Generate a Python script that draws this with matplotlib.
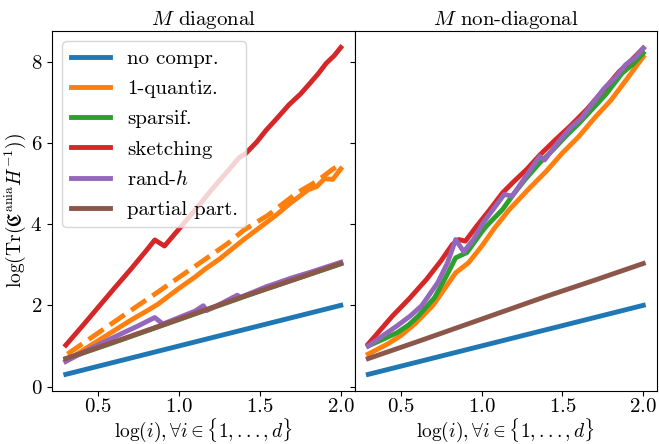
import numpy as np
import matplotlib
matplotlib.use("Agg")
import matplotlib.pyplot as plt

plt.rcParams['font.family'] = 'serif'
plt.rcParams['font.serif'] = ['cmr10']
plt.rcParams['mathtext.fontset'] = 'cm'
plt.rcParams['axes.formatter.use_mathtext'] = True
plt.rcParams['axes.unicode_minus'] = False

# ---- left panel: M diagonal ----
x_none = [0.30, 0.70, 1.00, 1.50, 2.00]
y_none = [0.30, 0.70, 1.00, 1.50, 2.00]

x_part = [0.30, 0.60, 1.00, 1.40, 1.70, 2.00]
y_part = [0.69, 1.10, 1.66, 2.22, 2.62, 3.03]

xl_quant = [0.30, 0.40, 0.50, 0.60, 0.70, 0.80, 0.87, 1.00, 1.10, 1.16, 1.25,
            1.40, 1.50, 1.60, 1.69, 1.80, 1.85, 1.90, 1.95, 2.00]
yl_quant = [0.62, 0.88, 1.13, 1.38, 1.63, 1.86, 2.03, 2.42, 2.70, 2.89, 3.14,
            3.62, 3.92, 4.22, 4.52, 4.85, 4.92, 5.12, 5.10, 5.36]

xl_quant_b = [0.31, 0.50, 0.70, 0.87, 1.00, 1.16, 1.30, 1.40, 1.55, 1.73,
              1.85, 1.95, 2.00]
yl_quant_b = [0.80, 1.32, 1.87, 2.33, 2.69, 3.13, 3.52, 3.85, 4.22, 4.77,
              5.05, 5.35, 5.47]

xl_spars = [0.30, 0.60, 0.90, 1.20, 1.50, 2.00]
yl_spars = [0.68, 1.09, 1.51, 1.93, 2.35, 3.02]

xl_sketch = [0.30, 0.40, 0.50, 0.60, 0.70, 0.80, 0.85, 0.91, 1.00, 1.10, 1.20,
             1.30, 1.37, 1.41, 1.48, 1.54, 1.60, 1.68, 1.75, 1.81, 1.86, 1.91,
             1.96, 2.00]
yl_sketch = [1.02, 1.48, 1.95, 2.42, 2.88, 3.36, 3.61, 3.46, 3.88, 4.35, 4.84,
             5.30, 5.63, 5.73, 6.02, 6.32, 6.58, 6.94, 7.20, 7.47, 7.70, 7.96,
             8.15, 8.35]

xl_randh = [0.30, 0.45, 0.60, 0.75, 0.85, 0.90, 1.00, 1.10, 1.15, 1.17, 1.25,
            1.36, 1.38, 1.45, 1.54, 1.60, 1.70, 1.80, 1.90, 2.00]
yl_randh = [0.62, 0.93, 1.22, 1.50, 1.70, 1.54, 1.70, 1.86, 1.99, 1.87, 2.02,
            2.25, 2.20, 2.31, 2.46, 2.54, 2.68, 2.80, 2.93, 3.06]

# ---- right panel: M non-diagonal ----
xr_quant = [0.30, 0.42, 0.50, 0.59, 0.70, 0.77, 0.84, 0.92, 1.00, 1.08, 1.17,
            1.30, 1.40, 1.50, 1.60, 1.70, 1.80, 1.90, 2.00]
yr_quant = [0.80, 1.05, 1.25, 1.55, 2.00, 2.40, 2.80, 3.05, 3.45, 3.90, 4.35,
            4.90, 5.30, 5.75, 6.15, 6.62, 7.05, 7.58, 8.12]

xr_spars = [0.30, 0.40, 0.48, 0.55, 0.61, 0.71, 0.78, 0.84, 0.91, 1.00, 1.03,
            1.13, 1.20, 1.27, 1.36, 1.44, 1.52, 1.60, 1.68, 1.77, 1.87, 1.94, 2.00]
yr_spars = [1.00, 1.18, 1.33, 1.52, 1.74, 2.19, 2.70, 3.17, 3.30, 3.80, 3.95,
            4.36, 4.75, 5.10, 5.51, 5.82, 6.16, 6.47, 6.81, 7.20, 7.72, 7.95, 8.21]

xr_sketch = [0.30, 0.45, 0.55, 0.66, 0.75, 0.82, 0.86, 0.90, 0.97, 1.05, 1.13,
             1.20, 1.28, 1.36, 1.45, 1.55, 1.65, 1.75, 1.85, 1.93, 2.00]
yr_sketch = [1.05, 1.74, 2.15, 2.64, 3.10, 3.50, 3.62, 3.58, 3.95, 4.35, 4.77,
             5.05, 5.35, 5.70, 6.05, 6.42, 6.82, 7.28, 7.75, 8.05, 8.33]

xr_randh = [0.30, 0.40, 0.48, 0.56, 0.63, 0.73, 0.79, 0.84, 0.89, 0.95, 1.01,
            1.06, 1.14, 1.19, 1.27, 1.36, 1.39, 1.47, 1.55, 1.62, 1.68, 1.76,
            1.83, 1.89, 1.95, 2.00]
yr_randh = [1.00, 1.28, 1.50, 1.74, 1.99, 2.56, 3.05, 3.62, 3.32, 3.62, 4.03,
            4.30, 4.73, 4.69, 5.15, 5.67, 5.58, 6.00, 6.37, 6.62, 6.94, 7.35,
            7.62, 7.92, 8.10, 8.33]

labels = ['no compr.', '1-quantiz.', 'sparsif.', 'sketching', r'rand-$h$', 'partial part.']
colors = ['tab:blue', 'tab:orange', 'tab:green', 'tab:red', 'tab:purple', 'tab:brown']
LW = 3.5

fig, (ax1, ax2) = plt.subplots(1, 2, sharey=True, figsize=(6.59, 4.44), dpi=100)
fig.subplots_adjust(left=0.079, right=0.997, bottom=0.12, top=0.93, wspace=0)

# left
ax1.plot(x_none, y_none, color=colors[0], lw=LW, label=labels[0])
ax1.plot(xl_quant, yl_quant, color=colors[1], lw=LW, label=labels[1])
ax1.plot(xl_quant_b, yl_quant_b, color=colors[1], lw=LW, ls='--')
ax1.plot(xl_spars, yl_spars, color=colors[2], lw=LW, label=labels[2])
ax1.plot(xl_sketch, yl_sketch, color=colors[3], lw=LW, label=labels[3])
ax1.plot(xl_randh, yl_randh, color=colors[4], lw=LW, label=labels[4])
ax1.plot(x_part, y_part, color=colors[5], lw=LW, label=labels[5])

# right
ax2.plot(x_none, y_none, color=colors[0], lw=LW)
ax2.plot(xr_quant, yr_quant, color=colors[1], lw=LW)
ax2.plot(xr_spars, yr_spars, color=colors[2], lw=LW)
ax2.plot(xr_sketch, yr_sketch, color=colors[3], lw=LW)
ax2.plot(xr_randh, yr_randh, color=colors[4], lw=LW)
ax2.plot(x_part, y_part, color=colors[5], lw=LW)

ax1.set_title(r'$M$ diagonal', fontsize=15, pad=4)
ax2.set_title(r'$M$ non-diagonal', fontsize=15, pad=4)
xlab = r'$\log(i), \forall i \in \{1, ..., d\}$'
ax1.set_xlabel(xlab, fontsize=14, labelpad=0)
ax2.set_xlabel(xlab, fontsize=14, labelpad=0)
ax1.set_ylabel(r'$\log(\mathrm{Tr}(\mathfrak{C}^{\mathrm{ania}} H^{-1}))$', fontsize=14, labelpad=2)

for ax in (ax1, ax2):
    ax.set_xticks([0.5, 1.0, 1.5, 2.0])
    ax.tick_params(labelsize=15)
    ax.tick_params(axis='x', pad=2)
ax1.set_yticks([0, 2, 4, 6, 8])

ax1.legend(loc='upper left', fontsize=15, handlelength=1.9, labelspacing=0.55)

fig.savefig('out.png', dpi=100)
